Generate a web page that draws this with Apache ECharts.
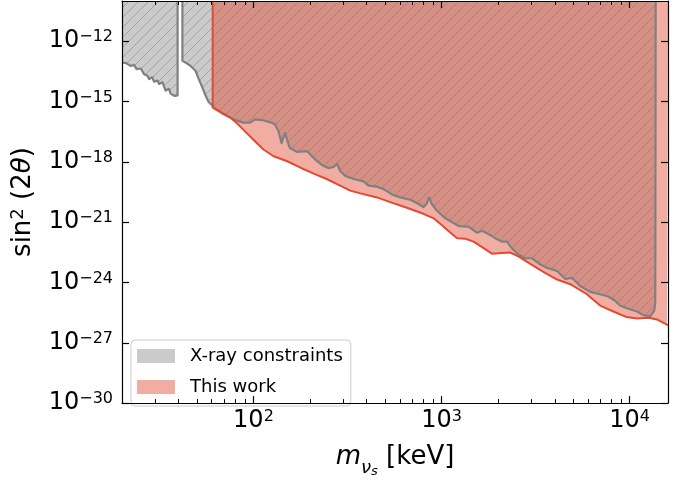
<!DOCTYPE html>
<html>
<head>
<meta charset="utf-8">
<script src="https://cdn.jsdelivr.net/npm/echarts@6/dist/echarts.min.js"></script>
<style>html,body{margin:0;padding:0;background:#fff;}#c{width:686px;height:483px;}</style>
</head>
<body>
<div id="c"></div>
<script>
// X-ray constraints, low-mass part (keV, sin^2(2theta))
const massXrayLow = [20,21.0,22.3,23.2,23.9,25.2,26.2,27.3,27.9,29.0,29.6,30.9,31.5,32.8,34.1,35.5,36.3,38.2,39.0,39.5,39.5];
const sinXrayLow = [8.7e-14,8.1e-14,5.9e-14,6.6e-14,4.1e-14,4.4e-14,2.3e-14,1.9e-14,1.3e-14,1.6e-14,9.8e-15,1.1e-14,7.5e-15,9.1e-15,3.5e-15,4.3e-15,2.4e-15,1.9e-15,2.0e-15,2.0e-15,1e-10];
// X-ray constraints, main part
const massXrayHigh = [41.9,41.9,43.5,46.3,49.2,51.2,53.4,55.6,57.8,60.3,61.5,69.4,78.4,88.5,96.1,102,111,123,130,136,141,147,153,156,171,193,213,231,251,267,278,289,308,341,385,409,454,492,544,602,681,752,800,833,860,886,941,1027,1116,1234,1394,1543,1641,1743,1929,2092,2224,2364,2511,2778,3020,3358,3642,4115,4552,4938,5463,6172,6970,7708,8364,8887,9840,10960,11880,12890,13530,13690,13760];
const sinXrayHigh = [1e-10,1.05e-13,8.7e-14,5.9e-14,3.4e-14,1.3e-14,5.2e-15,2.0e-15,9.5e-16,6.5e-16,4.9e-16,2.3e-16,1.3e-16,8.9e-17,8.9e-17,1.3e-16,1.2e-16,9.2e-17,7.4e-17,3.2e-17,8.6e-18,2.7e-17,8.6e-18,4.9e-18,3.1e-18,3.4e-18,1.3e-18,7.0e-19,4.8e-19,5.6e-19,8.1e-19,3.5e-19,2.0e-19,1.4e-19,1.06e-19,6.5e-20,5.8e-20,4.4e-20,2.4e-20,1.7e-20,1.3e-20,8.2e-21,5.6e-21,8.2e-21,1.7e-20,8.2e-21,3.9e-21,1.8e-21,1.1e-21,6.4e-22,5.9e-22,3.0e-22,3.7e-22,2.8e-22,1.6e-22,1.08e-22,1.08e-22,5.1e-23,2.9e-23,1.6e-23,1.6e-23,7.8e-24,5.3e-24,3.7e-24,1.5e-24,1.7e-24,6.7e-25,3.4e-25,2.6e-25,2.0e-25,1.24e-25,7.1e-26,4.9e-26,3.6e-26,2.3e-26,2.1e-26,4.0e-26,1.0e-25,1e-10];
// This work
const massThisWork = [60.7,60.7,66.7,75.3,81.7,88.5,100,113,128,150,178,209,245,289,327,370,454,533,654,800,903,980,1116,1210,1339,1481,1673,1853,2092,2315,2561,2952,3496,4115,4838,5925,6970,8190,9645,10960,12620,13970,15790,16000];
const sinThisWork = [1e-10,5.0e-16,3.1e-16,1.6e-16,8.3e-17,3.9e-17,1.25e-17,4.1e-18,1.9e-18,1.1e-18,5.1e-19,2.6e-19,1.4e-19,6.5e-20,3.7e-20,2.7e-20,1.7e-20,9.9e-21,5.2e-21,2.6e-21,1.6e-21,8.5e-22,3.0e-22,1.6e-22,1.5e-22,1.08e-22,5.1e-23,2.7e-23,2.9e-23,3.1e-23,2.0e-23,8.7e-24,3.3e-24,1.4e-24,8.2e-25,2.6e-25,7.1e-26,3.6e-26,1.9e-26,1.6e-26,1.76e-26,1.45e-26,8.0e-27,7.6e-27];
// ticks
const xMajorTicks = [100,1000,10000];
const xMinorTicks = [30,40,50,60,70,80,90,200,300,400,500,600,700,800,900,2000,3000,4000,5000,6000,7000,8000,9000];
const yMajorTicks = [1e-30,1e-27,1e-24,1e-21,1e-18,1e-15,1e-12];
const seriesNames = ['X-ray constraints','This work'];

const zip = (a,b) => a.map((v,i) => [v,b[i]]);
const FONT = 'DejaVu Sans';

function hatchCanvas(){
  const c = document.createElement('canvas'); c.width = 10; c.height = 10;
  const g = c.getContext('2d');
  g.fillStyle = '#cbcbcb'; g.fillRect(0,0,10,10);
  g.strokeStyle = '#a2a2a2'; g.lineWidth = 1;
  g.beginPath();
  g.moveTo(0,10); g.lineTo(10,0);
  g.moveTo(-1,1); g.lineTo(1,-1);
  g.moveTo(9,11); g.lineTo(11,9);
  g.stroke();
  return c;
}
const hatch = {image: hatchCanvas(), repeat: 'repeat'};
const redLine = '#e34a33';
const redFill = 'rgba(227,74,51,0.45)';

const expLabel = v => {
  const e = Math.round(Math.log10(v));
  return '{b|10}{s|' + String(e).replace('-', '\u2212') + '}';
};
const tickRich = {
  b: {fontSize: 24, lineHeight: 24, verticalAlign: 'bottom', fontFamily: FONT, color: '#000'},
  s: {fontSize: 16, lineHeight: 16, padding: [0,0,14,0], verticalAlign: 'top', fontFamily: FONT, color: '#000'}
};
const axLine = {show: true, lineStyle: {color: '#000', width: 1.2}};
const majTick = vals => ({show: true, inside: true, length: 7, customValues: vals, lineStyle: {color: '#000', width: 1.2}});
const minTick = vals => ({show: true, inside: true, length: 4, customValues: vals, lineStyle: {color: '#000', width: 1}});
const xBase = {type: 'log', logBase: 10, min: 20, max: 16000, gridIndex: 0, z: 10, splitLine: {show: false}};
const yBase = {type: 'log', logBase: 10, min: 1e-30, max: 1e-10, gridIndex: 0, z: 10, splitLine: {show: false}};

const chart = echarts.init(document.getElementById('c'));
chart.setOption({
  animation: false,
  backgroundColor: '#fff',
  grid: {left: 122, right: 18, top: 1, bottom: 75},
  xAxis: [
    Object.assign({}, xBase, {
      position: 'bottom', axisLine: axLine, axisTick: majTick(xMajorTicks),
      axisLabel: {show: true, customValues: xMajorTicks, formatter: expLabel, rich: tickRich, margin: 6},
      name: '{i|m}{sub|\u03bd}{ss|s}{n| [keV]}', nameLocation: 'middle', nameGap: 38,
      nameTextStyle: {rich: {
        i: {fontSize: 26, lineHeight: 26, fontStyle: 'italic', verticalAlign: 'top', fontFamily: FONT, color: '#000'},
        sub: {fontSize: 18, lineHeight: 18, fontStyle: 'italic', padding: [15,0,0,0], verticalAlign: 'top', fontFamily: FONT, color: '#000'},
        ss: {fontSize: 13, lineHeight: 13, fontStyle: 'italic', padding: [21,0,0,0], verticalAlign: 'top', fontFamily: FONT, color: '#000'},
        n: {fontSize: 26, lineHeight: 26, verticalAlign: 'top', fontFamily: FONT, color: '#000'}
      }}
    }),
    Object.assign({}, xBase, {position: 'bottom', axisLine: {show: false}, axisTick: minTick(xMinorTicks), axisLabel: {show: false}}),
    Object.assign({}, xBase, {position: 'top', axisLine: axLine, axisTick: majTick(xMajorTicks), axisLabel: {show: false}}),
    Object.assign({}, xBase, {position: 'top', axisLine: {show: false}, axisTick: minTick(xMinorTicks), axisLabel: {show: false}})
  ],
  yAxis: [
    Object.assign({}, yBase, {
      position: 'left', axisLine: axLine, axisTick: majTick(yMajorTicks),
      axisLabel: {show: true, customValues: yMajorTicks, formatter: expLabel, rich: tickRich, margin: 9},
      name: '{n|sin}{s|2}{n| (2}{i|\u03b8}{n|)}', nameLocation: 'middle', nameGap: 76,
      nameTextStyle: {rich: {
        n: {fontSize: 26, lineHeight: 26, verticalAlign: 'bottom', fontFamily: FONT, color: '#000'},
        i: {fontSize: 26, lineHeight: 26, verticalAlign: 'bottom', fontStyle: 'italic', fontFamily: FONT, color: '#000'},
        s: {fontSize: 18, lineHeight: 18, padding: [0,0,10,0], verticalAlign: 'top', fontFamily: FONT, color: '#000'}
      }}
    }),
    Object.assign({}, yBase, {position: 'right', axisLine: axLine, axisTick: majTick(yMajorTicks), axisLabel: {show: false}})
  ],
  legend: {
    orient: 'vertical', left: 131, top: 340, padding: [7,8,10,6], z: 3,
    itemWidth: 38, itemHeight: 14, itemGap: 13, selectedMode: false,
    backgroundColor: 'rgba(255,255,255,0.8)', borderColor: '#cccccc', borderWidth: 1, borderRadius: 4,
    textStyle: {fontSize: 18, lineHeight: 14, color: '#000', fontFamily: FONT, padding: [0,0,0,10]},
    data: [
      {name: seriesNames[0], icon: 'rect', itemStyle: {color: '#cbcbcb', borderWidth: 0}},
      {name: seriesNames[1], icon: 'rect', itemStyle: {color: redFill, borderWidth: 0}}
    ]
  },
  series: [
    {name: seriesNames[0], type: 'line', xAxisIndex: 0, yAxisIndex: 0, data: zip(massXrayLow, sinXrayLow), symbol: 'none', z: 1,
      itemStyle: {color: '#cbcbcb'}, lineStyle: {width: 0, opacity: 0}, areaStyle: {color: hatch, opacity: 1, origin: 'end'}},
    {name: seriesNames[0], type: 'line', xAxisIndex: 0, yAxisIndex: 0, data: zip(massXrayHigh, sinXrayHigh), symbol: 'none', z: 1,
      itemStyle: {color: '#cbcbcb'}, lineStyle: {width: 0, opacity: 0}, areaStyle: {color: hatch, opacity: 1, origin: 'end'}},
    {name: seriesNames[1], type: 'line', xAxisIndex: 0, yAxisIndex: 0, data: zip(massThisWork, sinThisWork), symbol: 'none', z: 2,
      itemStyle: {color: redFill}, lineStyle: {width: 0, opacity: 0}, areaStyle: {color: redFill, opacity: 1, origin: 'end'}},
    {name: 'xray-edge-low', type: 'line', xAxisIndex: 0, yAxisIndex: 0, data: zip(massXrayLow, sinXrayLow), symbol: 'none', z: 3,
      lineStyle: {color: '#808080', width: 2.2, join: 'round'}},
    {name: 'xray-edge-high', type: 'line', xAxisIndex: 0, yAxisIndex: 0, data: zip(massXrayHigh, sinXrayHigh), symbol: 'none', z: 3,
      lineStyle: {color: '#808080', width: 2.2, join: 'round'}},
    {name: 'this-work-edge', type: 'line', xAxisIndex: 0, yAxisIndex: 0, data: zip(massThisWork, sinThisWork), symbol: 'none', z: 4,
      lineStyle: {color: redLine, width: 2, join: 'round'}}
  ]
});
</script>
</body>
</html>
